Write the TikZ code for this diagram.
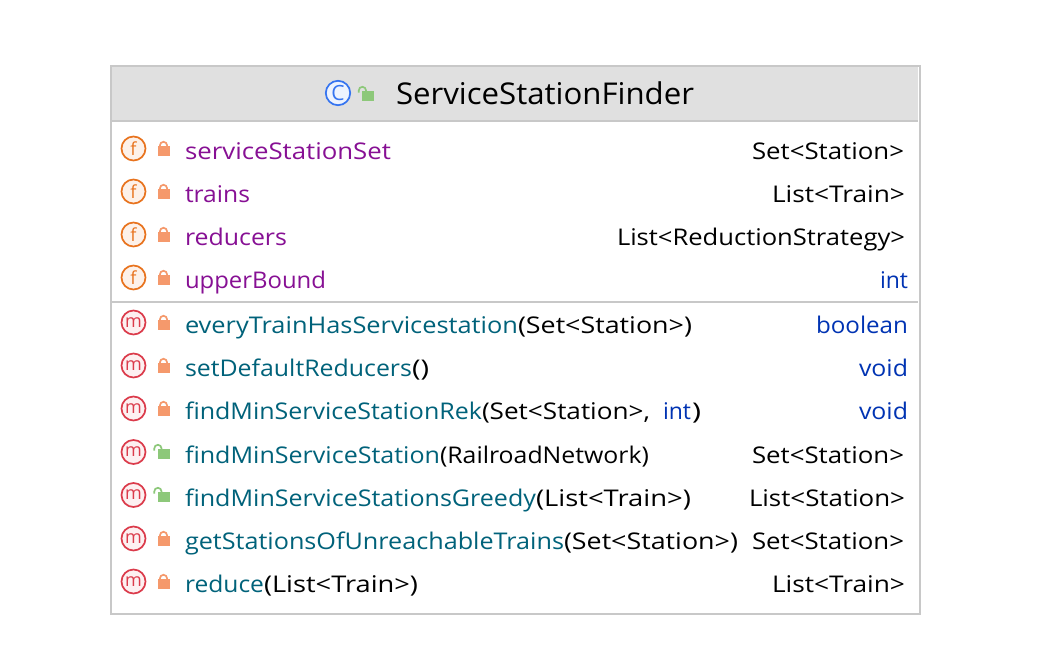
\documentclass[tikz,border=0pt]{standalone}
\usepackage{graphicx}
\usepackage{fontspec}
\setmainfont{Open Sans}
\definecolor{fieldc}{HTML}{871094}
\definecolor{methodc}{HTML}{00627A}
\definecolor{typec}{HTML}{0033B3}
\definecolor{borderc}{HTML}{C8C8C8}
\definecolor{headc}{HTML}{E0E0E0}
\definecolor{forange}{HTML}{E8731E}
\definecolor{ffill}{HTML}{FDF1E9}
\definecolor{mred}{HTML}{DB3B4B}
\definecolor{mfill}{HTML}{FDF0F1}
\definecolor{cblue}{HTML}{3574F0}
\definecolor{cfill}{HTML}{EDF3FE}
\definecolor{lockred}{HTML}{F5996C}
\definecolor{lockgreen}{HTML}{8DC87A}
\newsavebox{\fitbox}
\newcommand{\fitw}[2]{\sbox{\fitbox}{#2}\pgfmathsetmacro{\fitr}{#1/\the\wd\fitbox}\scalebox{\fitr}[1]{\usebox{\fitbox}}}
\newcommand{\lbl}[7][rowtext]{\node[#1,text=#6] (#2) at (#3,#4) {\fitw{#5}{#7}};}
\newcommand{\closedlock}[2]{%
  \fill[lockred] (#1-6,#2-3) rectangle (#1+6,#2+7);
  \draw[lockred,line width=1.7pt] (#1-3.6,#2-3) -- (#1-3.6,#2-3.6) arc[start angle=180,end angle=360,radius=3.6] -- (#1+3.6,#2-3);}
\newcommand{\openlock}[2]{%
  \fill[lockgreen] (#1-6,#2-3) rectangle (#1+6,#2+6.5);
  \draw[lockgreen,line width=1.7pt] (#1-9.2,#2-1.5) -- (#1-9.2,#2-3.6) arc[start angle=180,end angle=360,radius=3.6] -- (#1-2,#2-3);}
\tikzset{
  rowtext/.style={anchor=base west,inner sep=0pt,outer sep=0pt,font=\fontsize{23}{23}\selectfont},
  titletext/.style={rowtext,font=\fontsize{30}{30}\selectfont},
  icon/.style={circle,line width=1.7pt,minimum size=24pt,inner sep=0pt,font=\fontsize{18}{18}\selectfont},
  ficon/.style={icon,draw=forange,fill=ffill,text=forange},
  micon/.style={icon,draw=mred,fill=mfill,text=mred},
  cicon/.style={icon,draw=cblue,fill=cfill,text=cblue,minimum size=24.4pt,font=\fontsize{21}{21}\selectfont},
  rule/.style={borderc,line width=2pt}
}
\begin{document}
\begin{tikzpicture}[x=1pt,y=-1pt]
\useasboundingbox (0,0) rectangle (1047,665);
\fill[white] (0,0) rectangle (1047,665);
\node[draw=borderc,line width=2pt,fill=white,minimum width=809pt,minimum height=548pt,inner sep=0pt,outer sep=0pt,anchor=north west] (box) at (111,66) {};
\fill[headc] (112,67) rectangle (917.5,120);
\draw[rule] (112,120.5) -- (917.5,120.5);
\draw[rule] (112,302) -- (917.5,302);
% header
\node[cicon] (cls) at (338,93) {C};
\openlock{368}{94}
\lbl[titletext]{title}{396}{104}{298}{black}{ServiceStationFinder}
% fields
\node[ficon] (f1) at (133.5,148.5) {f};
\node[ficon] (f2) at (133.5,191.5) {f};
\node[ficon] (f3) at (133.5,234.5) {f};
\node[ficon] (f4) at (133.5,277.5) {f};
\closedlock{163.5}{149}
\closedlock{163.5}{192}
\closedlock{163.5}{235}
\closedlock{163.5}{278}
\lbl{f1n}{185}{159}{206}{fieldc}{serviceStationSet}
\lbl{f1t}{752}{159}{152}{black}{Set<Station>}
\lbl{f2n}{185}{202}{65}{fieldc}{trains}
\lbl{f2t}{772}{202}{133}{black}{List<Train>}
\lbl{f3n}{185}{245}{102}{fieldc}{reducers}
\lbl{f3t}{617}{245}{288}{black}{List<ReductionStrategy>}
\lbl{f4n}{185}{288}{141}{fieldc}{upperBound}
\lbl{f4t}{880}{288}{28}{typec}{int}
% methods
\node[micon] (m1) at (133.5,322.5) {m};
\node[micon] (m2) at (133.5,365.5) {m};
\node[micon] (m3) at (133.5,408.5) {m};
\node[micon] (m4) at (133.5,452) {m};
\node[micon] (m5) at (133.5,495) {m};
\node[micon] (m6) at (133.5,538.5) {m};
\node[micon] (m7) at (133.5,581.5) {m};
\closedlock{163.5}{323}
\closedlock{163.5}{366}
\closedlock{163.5}{409}
\openlock{163.5}{452}
\openlock{163.5}{495}
\closedlock{163.5}{539}
\closedlock{163.5}{582}
\lbl{m1n}{185}{333}{333}{methodc}{everyTrainHasServicestation}
\lbl{m1a}{518}{333}{174}{black}{(Set<Station>)}
\lbl{m1t}{816}{333}{92}{typec}{boolean}
\lbl{m2n}{185}{376}{227}{methodc}{setDefaultReducers}
\lbl{m2a}{412}{376}{17}{black}{()}
\lbl{m2t}{859}{376}{49}{typec}{void}
\lbl{m3n}{185}{419}{297}{methodc}{findMinServiceStationRek}
\lbl{m3a}{482}{419}{168}{black}{(Set<Station>,}
\lbl{m3b}{663}{419}{28}{typec}{int}
\lbl{m3c}{692}{419}{9}{black}{)}
\lbl{m3t}{859}{419}{49}{typec}{void}
\lbl{m4n}{185}{463}{255}{methodc}{findMinServiceStation}
\lbl{m4a}{440}{463}{209}{black}{(RailroadNetwork)}
\lbl{m4t}{752}{463}{152}{black}{Set<Station>}
\lbl{m5n}{185}{506}{351}{methodc}{findMinServiceStationsGreedy}
\lbl{m5a}{536}{506}{155}{black}{(List<Train>)}
\lbl{m5t}{749}{506}{156}{black}{List<Station>}
\lbl{m6n}{185}{549}{379}{methodc}{getStationsOfUnreachableTrains}
\lbl{m6a}{564}{549}{174}{black}{(Set<Station>)}
\lbl{m6t}{752}{549}{152}{black}{Set<Station>}
\lbl{m7n}{185}{592}{79}{methodc}{reduce}
\lbl{m7a}{264}{592}{154}{black}{(List<Train>)}
\lbl{m7t}{772}{592}{133}{black}{List<Train>}
\end{tikzpicture}
\end{document}
